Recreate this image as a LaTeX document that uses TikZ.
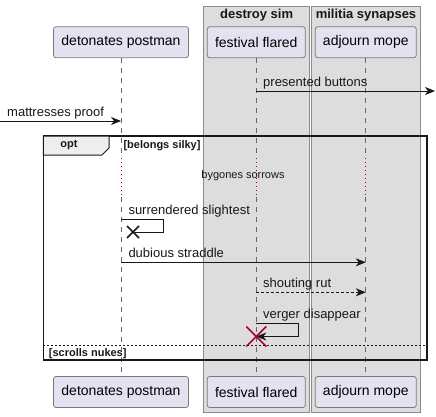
\documentclass[tikz,border=0pt]{standalone}
\usepackage{fontspec}
\setmainfont{Liberation Sans}
\usetikzlibrary{arrows.meta,positioning,calc}
\definecolor{partfill}{HTML}{E2E2F0}
\definecolor{partdraw}{HTML}{7A7A7A}
\definecolor{boxfill}{HTML}{DDDDDD}
\definecolor{boxdraw}{HTML}{8A8A8A}
\definecolor{ink}{HTML}{181818}
\definecolor{lifeln}{HTML}{666666}
\definecolor{crimson}{HTML}{A80036}
\definecolor{tabfill}{HTML}{EEEEEE}
\tikzset{
  part/.style={draw=partdraw, fill=partfill, rounded corners=2.5pt, line width=0.8pt,
    minimum height=31pt, inner sep=0pt, font=\fontsize{14}{16}\selectfont},
  lifeline/.style={draw=lifeln, dash pattern=on 5pt off 5pt, line width=0.7pt},
  delayln/.style={draw=crimson, dash pattern=on 1pt off 3pt, line width=0.9pt},
  msg/.style={draw=ink, line width=0.9pt, -{Stealth[length=10pt,width=8pt,inset=3pt]}},
  msgplain/.style={draw=ink, line width=0.9pt},
  lbl/.style={anchor=base west, inner sep=0pt, font=\fontsize{13}{15}\selectfont, text=ink},
  grpbox/.style={draw=boxdraw, fill=boxfill, line width=0.8pt},
  boxtitle/.style={font=\bfseries\fontsize{13}{15}\selectfont, inner sep=0pt, text=ink},
  grplbl/.style={font=\bfseries\fontsize{11}{13}\selectfont, inner sep=0pt, text=ink},
}
\begin{document}
\begin{tikzpicture}[x=1pt,y=-1pt]
\useasboundingbox (0,0) rectangle (436,417);
% grouping boxes
\draw[grpbox] (203.5,6) rectangle (309.3,412);
\draw[grpbox] (311.5,6) rectangle (420.5,412);
\node[boxtitle] (t1) at (256.6,15.5) {destroy sim};
\node[boxtitle] (t2) at (366,15.5) {militia synapses};
% participants
\node[part, minimum width=135pt] (pA) at (121,42.2) {detonates postman};
\node[part, minimum width=98pt] (pB) at (256.3,42.2) {festival flared};
\node[part, minimum width=101pt] (pC) at (365.8,42.2) {adjourn mope};
\node[part, minimum width=135pt] (qA) at (121,392) {detonates postman};
\node[part, minimum width=98pt] (qB) at (256.3,392) {festival flared};
\node[part, minimum width=101pt] (qC) at (365.8,392) {adjourn mope};
% lifelines with delay
\coordinate (dAs) at (121,158); \coordinate (dAe) at (121,197);
\coordinate (dBs) at (256.3,158); \coordinate (dBe) at (256.3,197);
\coordinate (dCs) at (365.8,158); \coordinate (dCe) at (365.8,197);
\draw[lifeline] (pA.south) -- (dAs); \draw[delayln] (dAs) -- (dAe); \draw[lifeline] (dAe) -- (qA.north);
\draw[lifeline] (pB.south) -- (dBs); \draw[delayln] (dBs) -- (dBe); \draw[lifeline] (dBe) -- (qB.north);
\draw[lifeline] (pC.south) -- (dCs); \draw[delayln] (dCs) -- (dCe); \draw[lifeline] (dCe) -- (qC.north);
% message 1
\coordinate (m1s) at (256.3,91); \coordinate (m1e) at (435,91);
\draw[msg] (m1s) -- (m1e);
\node[lbl] (l1) at (263,86.5) {presented buttons};
% message 2
\coordinate (m2s) at (0,121); \coordinate (m2e) at (121,121);
\draw[msg] (m2s) -- (m2e);
\node[lbl] (l2) at (7,116.5) {mattresses proof};
% opt frame
\draw[ink, line width=1.5pt] (43.3,136) rectangle (427,360);
\draw[ink, line width=1pt, fill=tabfill] (43.3,136) -- (109,136) -- (109,148) -- (102,155) -- (43.3,155) -- cycle;
\node[grplbl] (opt) at (69,145.5) {opt};
\node[grplbl, anchor=west] (g1) at (123.3,146) {[belongs silky]};
\node[inner sep=0pt, font=\fontsize{11}{13}\selectfont, text=ink] (delay) at (243,176) {bygones sorrows};
% surrendered slightest (lost)
\coordinate (s1) at (121,219.3); \coordinate (s2) at (163.3,219.3);
\coordinate (s3) at (163.3,232); \coordinate (s4) at (133,232);
\draw[msgplain] (s1) -- (s2) -- (s3) -- (s4);
\draw[ink, line width=1.6pt] ($(s4)+(-6,-6)$) -- ++(12,12) ($(s4)+(-6,6)$) -- ++(12,-12);
\node[lbl] (l3) at (128.3,214.5) {surrendered slightest};
% dubious straddle
\coordinate (m4s) at (121,262.3); \coordinate (m4e) at (365.8,262.3);
\draw[msg] (m4s) -- (m4e);
\node[lbl] (l4) at (128.3,257.5) {dubious straddle};
% shouting rut
\coordinate (m5s) at (256.3,292.3); \coordinate (m5e) at (365.8,292.3);
\draw[msg, dash pattern=on 2.5pt off 2.5pt] (m5s) -- (m5e);
\node[lbl] (l5) at (263,287.5) {shouting rut};
% verger disappear
\coordinate (v1) at (256.3,323.3); \coordinate (v2) at (298.3,323.3);
\coordinate (v3) at (298.3,336.5); \coordinate (v4) at (256.3,336.5);
\draw[msg] (v1) -- (v2) -- (v3) -- (v4);
\draw[crimson, line width=1.6pt] ($(v4)+(-10,-10)$) -- ++(20,20) ($(v4)+(-10,10)$) -- ++(20,-20);
\node[lbl] (l6) at (263,318.5) {verger disappear};
% else
\coordinate (e1) at (43.3,345.7); \coordinate (e2) at (427,345.7);
\draw[ink, line width=0.7pt, dash pattern=on 2pt off 2pt] (e1) -- (e2);
\node[grplbl, anchor=west] (g2) at (48.7,353.3) {[scrolls nukes]};
\end{tikzpicture}
\end{document}
